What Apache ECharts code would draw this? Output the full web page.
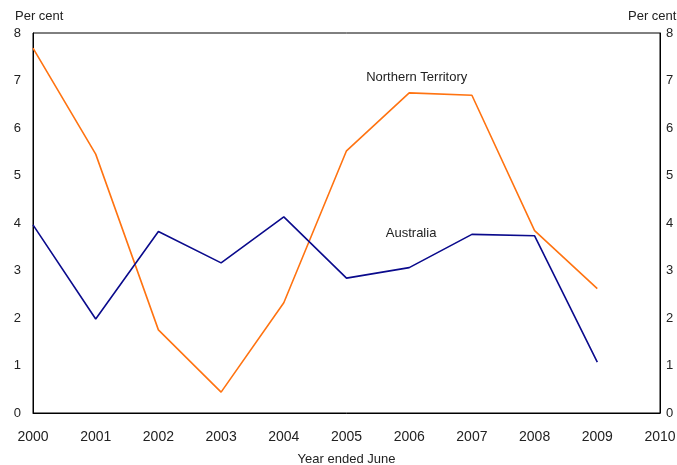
<!DOCTYPE html>
<html>
<head>
<meta charset="utf-8">
<script src="https://cdn.jsdelivr.net/npm/echarts@6/dist/echarts.min.js"></script>
<style>html,body{margin:0;padding:0;background:#fff;}#c{width:677px;height:465px;}</style>
</head>
<body>
<div id="c"></div>
<script>
const years = [2000, 2001, 2002, 2003, 2004, 2005, 2006, 2007, 2008, 2009];
const northernTerritory = [7.68, 5.45, 1.75, 0.44, 2.32, 5.52, 6.74, 6.69, 3.84, 2.62];
const australia = [3.96, 1.98, 3.82, 3.16, 4.13, 2.84, 3.06, 3.76, 3.73, 1.07];
const ntLabel = { text: 'Northern Territory', x: 2006.12, y: 7.07 };
const auLabel = { text: 'Australia', x: 2006.03, y: 3.79 };
const yTitle = 'Per cent';
const xTitle = 'Year ended June';

const font = 'Liberation Sans, Arial, sans-serif';
const pairs = (vals) => years.map((y, i) => [y, vals[i]]);
const labelPoint = (l) => ({
  coord: [l.x, l.y], symbol: 'rect', symbolSize: 1,
  itemStyle: { color: 'rgba(0,0,0,0)' },
  label: { show: true, position: 'inside', formatter: l.text, color: '#222', fontSize: 13, fontFamily: font }
});

const chart = echarts.init(document.getElementById('c'), null, { renderer: 'canvas' });
chart.setOption({
  animation: false,
  backgroundColor: '#fff',
  title: [
    { text: yTitle, left: 15, top: 10, padding: 0, textStyle: { fontSize: 13, fontWeight: 'normal', color: '#222', fontFamily: font } },
    { text: yTitle, left: 628, top: 10, padding: 0, textStyle: { fontSize: 13, fontWeight: 'normal', color: '#222', fontFamily: font } }
  ],
  grid: { left: 33, right: 17, top: 33, bottom: 52, outerBoundsMode: 'none', containLabel: false, show: true, borderColor: '#000', borderWidth: 1, backgroundColor: 'transparent' },
  xAxis: {
    type: 'value', min: 2000, max: 2010, interval: 1,
    name: xTitle, nameLocation: 'middle', nameGap: 40,
    nameTextStyle: { fontSize: 13, color: '#222', fontFamily: font },
    axisLine: { show: true, lineStyle: { color: '#000', width: 1 } },
    axisTick: { show: false }, splitLine: { show: false },
    axisLabel: { formatter: (v) => String(v), margin: 17, fontSize: 14, color: '#222', fontFamily: font }
  },
  yAxis: [
    {
      type: 'value', min: 0, max: 8, interval: 1, position: 'left',
      axisLine: { show: true, lineStyle: { color: '#000', width: 1 } },
      axisTick: { show: false }, splitLine: { show: false },
      axisLabel: { margin: 12, fontSize: 13, color: '#222', fontFamily: font }
    },
    {
      type: 'value', min: 0, max: 8, interval: 1, position: 'right',
      axisLine: { show: true, lineStyle: { color: '#000', width: 1 } },
      axisTick: { show: false }, splitLine: { show: false },
      axisLabel: { margin: 6, fontSize: 13, color: '#222', fontFamily: font }
    }
  ],
  series: [
    {
      name: 'Northern Territory', type: 'line', data: pairs(northernTerritory),
      showSymbol: false, symbol: 'none', lineStyle: { color: '#FF7311', width: 1.6 }, itemStyle: { color: '#FF7311' },
      markPoint: { data: [labelPoint(ntLabel)], animation: false, silent: true }
    },
    {
      name: 'Australia', type: 'line', data: pairs(australia),
      showSymbol: false, symbol: 'none', lineStyle: { color: '#0A0A8C', width: 1.6 }, itemStyle: { color: '#0A0A8C' },
      markPoint: { data: [labelPoint(auLabel)], animation: false, silent: true }
    }
  ]
});
</script>
</body>
</html>
